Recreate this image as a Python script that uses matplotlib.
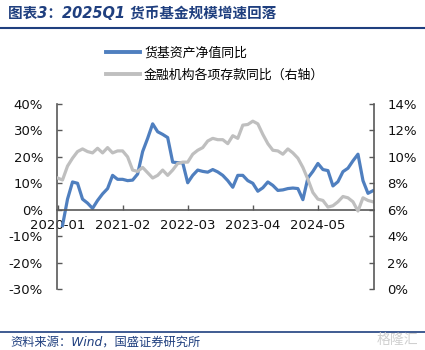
import matplotlib
matplotlib.use("Agg")
import matplotlib.pyplot as plt
from matplotlib.lines import Line2D
import numpy as np

plt.rcParams['font.family'] = ['DejaVu Sans', 'Noto Sans CJK SC']

# monthly index 0 = 2020-01
tick_labels = ["2020-01", "2021-02", "2022-03", "2023-04", "2024-05"]
tick_pos = [0, 13, 26, 39, 52]

# 货基资产净值同比 (%), starts 2020-02
mmf_yoy = [-6, 4, 10.5, 10, 4, 2.5, 0.5, 3.5, 6, 8,
           13, 11.5, 11.5, 11, 11.2, 13.5, 22, 27, 32.5, 29.5,
           28.5, 27.3, 18, 17.8, 17.8, 10.2, 13, 15, 14.5, 14.2,
           15.2, 14.3, 13, 11, 8.5, 13, 13, 11, 10, 7,
           8.3, 10.5, 9.2, 7.3, 7.5, 8, 8.2, 8, 3.8, 12,
           14.5, 17.5, 15.2, 14.8, 9, 10.6, 14.4, 15.7, 18.5, 21,
           11, 6.2, 7.2]
# 金融机构各项存款同比 (%, right axis), starts 2020-01
dep_yoy = [8.4, 8.25, 9.3, 9.9, 10.4, 10.6, 10.4, 10.3, 10.65, 10.3,
           10.7, 10.3, 10.45, 10.45, 10.0, 9.0, 8.9, 9.2, 8.8, 8.4,
           8.6, 9.0, 8.6, 9.0, 9.5, 9.6, 9.6, 10.2, 10.5, 10.7,
           11.2, 11.4, 11.3, 11.3, 11.0, 11.6, 11.4, 12.4, 12.45, 12.7,
           12.5, 11.7, 11.0, 10.5, 10.45, 10.2, 10.6, 10.3, 9.9, 9.2,
           8.3, 7.3, 6.8, 6.7, 6.2, 6.3, 6.6, 7.0, 6.9, 6.6,
           5.9, 6.9, 6.7, 6.6]

label_mmf = "货基资产净值同比"
label_dep = "金融机构各项存款同比（右轴）"
title = "图表3：2025Q1 货币基金规模增速回落"
source = "资料来源：Wind，国盛证券研究所"

navy = '#1F3F7F'
blue = '#4F7FBF'
gray = '#BFBFBF'
spine_c = '#595959'

W, H = 425, 350
fig = plt.figure(figsize=(W/100, H/100), dpi=100)
ax = fig.add_axes([57/W, 1-289/H, (374-57)/W, (289-104)/H])
ax2 = ax.twinx()

x_mmf = np.arange(1, 1 + len(mmf_yoy))
x_dep = np.arange(0, len(dep_yoy))
ax.plot(x_mmf, mmf_yoy, color=blue, lw=2.3, solid_joinstyle='round')
ax2.plot(x_dep, dep_yoy, color=gray, lw=2.3, solid_joinstyle='round')

ax.set_xlim(-0.1, 63.2)
ax.set_ylim(-30, 40)
ax2.set_ylim(0, 14)
ax.set_yticks(np.arange(-30, 41, 10))
ax.set_yticklabels([f"{v}%" for v in range(-30, 41, 10)])
ax2.set_yticks(np.arange(0, 15, 2))
ax2.set_yticklabels([f"{v}%" for v in range(0, 15, 2)])
ax.set_xticks(tick_pos)
ax.set_xticklabels(tick_labels)

for a in (ax, ax2):
    a.spines['top'].set_visible(False)
    a.patch.set_visible(False)
ax.spines['right'].set_visible(False)
ax2.spines['left'].set_visible(False)
ax2.spines['bottom'].set_visible(False)
ax.spines['bottom'].set_position(('data', 0))
for s in ('left', 'bottom'):
    ax.spines[s].set_color(spine_c)
    ax.spines[s].set_linewidth(1.2)
ax2.spines['right'].set_color(spine_c)
ax2.spines['right'].set_linewidth(1.2)

ax.tick_params(axis='y', direction='in', length=3.5, width=1, color=spine_c,
               labelsize=9.5, pad=10, labelcolor='#111111')
ax.tick_params(axis='x', direction='in', length=3.5, width=1, color=spine_c,
               labelsize=9.5, pad=7, labelcolor='#111111')
ax2.tick_params(axis='y', direction='in', length=3.5, width=1, color=spine_c,
                labelsize=9.5, pad=9.5, labelcolor='#111111')

handles = [Line2D([], [], color=blue, lw=2.8), Line2D([], [], color=gray, lw=2.8)]
fig.legend(handles, [label_mmf, label_dep], loc='upper left',
           bbox_to_anchor=(106/W, 1-47/H), bbox_transform=fig.transFigure,
           frameon=False, borderpad=0, borderaxespad=0, handlelength=2.6,
           handletextpad=0.35, labelspacing=0.65,
           prop={'family': ['Noto Sans CJK SC'], 'size': 9.3})

fig.text(8/W, 1-14/H, title, ha='left', va='center', fontsize=10.5,
         fontweight='bold', style='italic', color=navy,
         family=['DejaVu Sans', 'Noto Sans CJK SC'])
fig.add_artist(Line2D([0, 1], [1-28/H, 1-28/H], color=navy, lw=1.5,
                      transform=fig.transFigure))
fig.add_artist(Line2D([0, 1], [1-332/H, 1-332/H], color=navy, lw=1.2,
                      transform=fig.transFigure))
fig.text(10/W, 1-342/H, source, ha='left', va='center', fontsize=8.8,
         style='italic', color=navy, family=['DejaVu Sans', 'Noto Sans CJK SC'])
fig.text(418/W, 1-340/H, "格隆汇", ha='right', va='center', fontsize=10,
         color='#D0D0D0', family=['Noto Sans CJK SC'])

fig.savefig("out.png", dpi=100)
